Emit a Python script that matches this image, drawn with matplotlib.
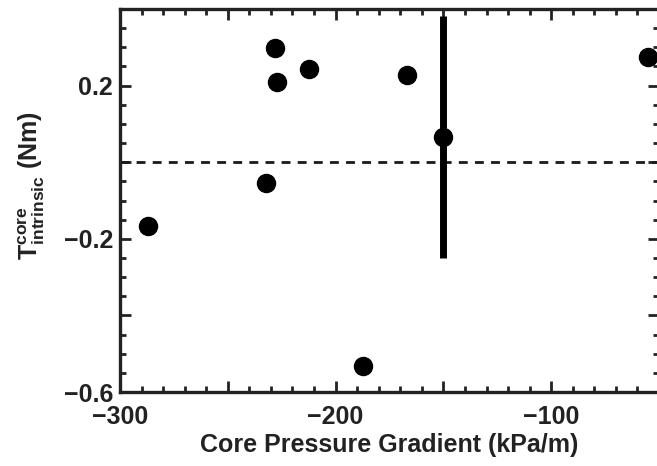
import matplotlib
matplotlib.use('Agg')
import matplotlib.pyplot as plt
from matplotlib.ticker import MultipleLocator, FixedFormatter, FixedLocator

# data
grad = [-286.9, -232.5, -228.2, -227.4, -212.4, -187.4, -166.7, -55.2]
torque = [-0.166, -0.055, 0.297, 0.210, 0.243, -0.532, 0.228, 0.274]
err_x = [-150.0]
err_y = [0.066]
err_size = [0.317]

xticks = [-300, -250, -200, -150, -100, -50]
xticklabels = ['\u2212300', '', '\u2212200', '', '\u2212100', '']
yticks = [-0.6, -0.4, -0.2, 0.0, 0.2, 0.4]
yticklabels = ['\u22120.6', '', '\u22120.2', '', '0.2', '']

fam = ['Liberation Sans', 'DejaVu Sans']
plt.rcParams['font.family'] = fam
plt.rcParams['font.weight'] = 'bold'
plt.rcParams['mathtext.fontset'] = 'custom'
plt.rcParams['mathtext.rm'] = 'Liberation Sans:bold'
plt.rcParams['mathtext.bf'] = 'Liberation Sans:bold'
plt.rcParams['mathtext.it'] = 'Liberation Sans:bold'

fig = plt.figure(figsize=(6.57, 4.66), dpi=100)
ax = fig.add_axes([120 / 657, 74 / 466, 539 / 657, 383 / 466])

ax.axhline(0, color='#1a1a1a', lw=2.0, ls=(0, (3.2, 2.6)))
ax.errorbar(err_x, err_y, yerr=err_size, fmt='o', color='black', ms=13,
            elinewidth=5, capsize=0)
ax.plot(grad, torque, 'o', color='black', ms=13, clip_on=False)

ax.set_xlim(-300, -50)
ax.set_ylim(-0.6, 0.4)
ax.xaxis.set_major_locator(FixedLocator(xticks))
ax.xaxis.set_major_formatter(FixedFormatter(xticklabels))
ax.xaxis.set_minor_locator(MultipleLocator(10))
ax.yaxis.set_major_locator(FixedLocator(yticks))
ax.yaxis.set_major_formatter(FixedFormatter(yticklabels))
ax.yaxis.set_minor_locator(MultipleLocator(0.05))

ax.tick_params(which='both', direction='in', top=True, right=True,
               color='#222222', labelsize=18, labelcolor='#222222')
ax.tick_params(which='major', length=8, width=2)
ax.tick_params(which='minor', length=4, width=2)
ax.tick_params(axis='x', pad=9)
ax.tick_params(axis='y', pad=5)
for s in ax.spines.values():
    s.set_linewidth(2.4)
    s.set_color('#222222')

ax.set_xlabel('Core Pressure Gradient (kPa/m)', fontsize=18,
              fontweight='bold', color='#222222', labelpad=3)
ax.set_ylabel(r'$\mathbf{T}^{\mathbf{core}}_{\mathbf{intrinsic}}$ (Nm)',
              fontsize=18, fontweight='bold', color='#222222')
ax.yaxis.set_label_coords(-0.135, 0.54)

fig.savefig('out.png', dpi=100)
